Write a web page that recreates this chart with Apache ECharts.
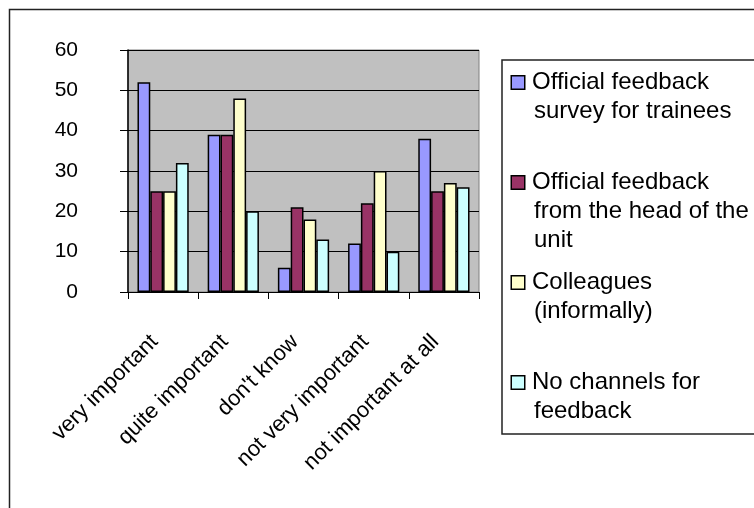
<!DOCTYPE html>
<html>
<head>
<meta charset="utf-8">
<script src="https://cdn.jsdelivr.net/npm/echarts@6/dist/echarts.min.js"></script>
<style>
  html, body { margin: 0; padding: 0; background: #fff; }
  #chart { width: 754px; height: 508px; }
</style>
</head>
<body>
<div id="chart"></div>
<script>
const categories = ['very important', 'quite important', "don't know", 'not very important', 'not important at all'];
const seriesNames = ['Official feedback survey for trainees', 'Official feedback from the head of the unit', 'Colleagues (informally)', 'No channels for feedback'];
const surveyValues = [52, 39, 6, 12, 38];
const headValues = [25, 39, 21, 22, 25];
const colleagueValues = [25, 48, 18, 30, 27];
const noChannelValues = [32, 20, 13, 10, 26];
const legendLines = [
    ['Official feedback', 'survey for trainees', ' '],
    ['Official feedback', 'from the head of the', 'unit'],
    ['Colleagues', '(informally)', ' '],
    ['No channels for', 'feedback']
];
const colors = ['#9999ff', '#993366', '#ffffcc', '#ccffff'];

const chart = echarts.init(document.getElementById('chart'));
const font = 'Liberation Sans, Arial, sans-serif';

// legend squares live in rich text so they sit on the first line
const rich = { gap: { width: 8 }, ind: { width: 22 } };
colors.forEach((c, i) => {
    rich['s' + i] = { width: 12, height: 12, backgroundColor: c, borderColor: '#000', borderWidth: 1.5 };
});

const allValues = [surveyValues, headValues, colleagueValues, noChannelValues];
const options = {
    animation: false,
    textStyle: { fontFamily: font },
    graphic: [{
        type: 'rect',
        left: 7, top: 7, z: -1,
        shape: { width: 900, height: 700 },
        style: { fill: 'none', stroke: '#222', lineWidth: 1.5 }
    }],
    grid: {
        left: 128, right: 275, top: 50, bottom: 216,
        show: true,
        backgroundColor: '#c0c0c0',
        borderColor: '#808080',
        borderWidth: 1
    },
    legend: {
        orient: 'vertical',
        left: 502, top: 60,
        padding: [8, 400, 8, 5],
        borderColor: '#222',
        borderWidth: 1.5,
        itemWidth: 0, itemHeight: 14, itemGap: 13,
        icon: 'none',
        data: seriesNames,
        formatter: function (name) {
            const i = seriesNames.indexOf(name);
            const lines = legendLines[i];
            let str = '{s' + i + '|}{gap|}' + lines[0];
            for (let k = 1; k < lines.length; k++) {
                str += '\n{ind|}' + lines[k];
            }
            return str;
        },
        textStyle: { fontFamily: font, fontSize: 24, lineHeight: 29, color: '#000', rich: rich }
    },
    xAxis: {
        type: 'category',
        data: categories,
        axisLine: { lineStyle: { color: '#000', width: 1 } },
        axisTick: { show: true, length: 7, lineStyle: { color: '#000' } },
        axisLabel: { rotate: 45, margin: 38, padding: [0, 12, 0, 0], fontSize: 22, color: '#000', fontFamily: font, interval: 0 }
    },
    yAxis: {
        type: 'value',
        min: 0, max: 60, interval: 10,
        axisLine: { show: true, lineStyle: { color: '#000', width: 1.5 } },
        axisTick: { show: true, length: 8, lineStyle: { color: '#000' } },
        axisLabel: { margin: 50, fontSize: 21, color: '#000', fontFamily: font },
        splitLine: { lineStyle: { color: '#000', width: 1 } }
    },
    series: []
};
for (let i = 0; i < allValues.length; i++) {
    options.series.push({
        name: seriesNames[i],
        type: 'bar',
        barGap: '0%',
        barCategoryGap: '27%',
        itemStyle: { color: colors[i], borderColor: '#000', borderWidth: 1.5 },
        data: allValues[i]
    });
}
chart.setOption(options, true);
</script>
</body>
</html>
